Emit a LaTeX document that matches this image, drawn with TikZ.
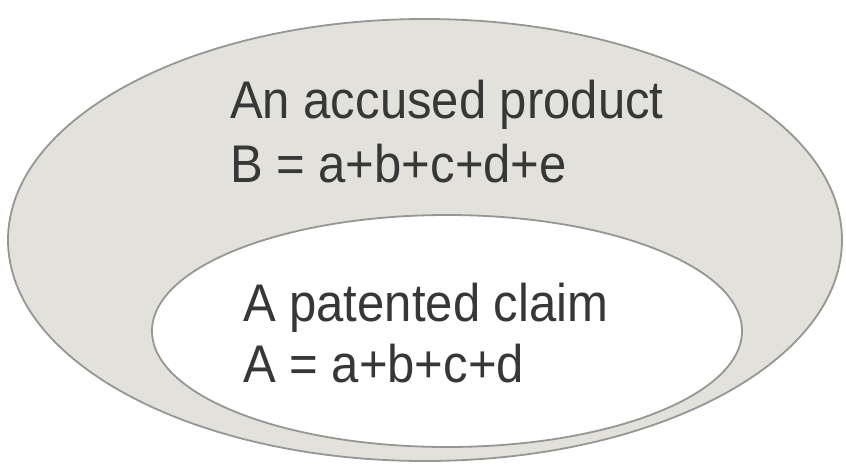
\documentclass[tikz,border=0pt]{standalone}
\usepackage{fontspec}
\setmainfont{Liberation Sans}
\usepackage{xcolor}
\usepackage{tikz}
\usetikzlibrary{positioning}

\definecolor{setfill}{RGB}{227,225,219}
\definecolor{setline}{RGB}{150,150,148}
\definecolor{settext}{RGB}{55,55,55}

% narrow label text
\newcommand{\narrowtxt}[1]{\scalebox{0.925}[1]{#1}}

\tikzset{
    settitle/.style={anchor=base west, inner sep=0pt, text=settext,
        font=\fontsize{53}{60}\selectfont}
}

\begin{document}
\begin{tikzpicture}[x=1pt,y=-1pt]
    \useasboundingbox (0,0) rectangle (846,466);

    % The two sets
    \draw[line width=1.8pt, draw=setline, fill=setfill] (425,240) ellipse [x radius=417, y radius=221];
    \draw[line width=1.8pt, draw=setline, fill=white] (447,331) ellipse [x radius=295, y radius=116];

    % Labels of the outer set
    \node[settitle] (accused) at (230,118) {\narrowtxt{An accused product}};
    \node[settitle] (accusedeq) at (230,182) {\narrowtxt{B = a+b+c+d+e}};

    % Labels of the inner set
    \node[settitle] (claim) at (243,321) {\narrowtxt{A patented claim}};
    \node[settitle] (claimeq) at (243,382) {\narrowtxt{A = a+b+c+d}};
\end{tikzpicture}
\end{document}
